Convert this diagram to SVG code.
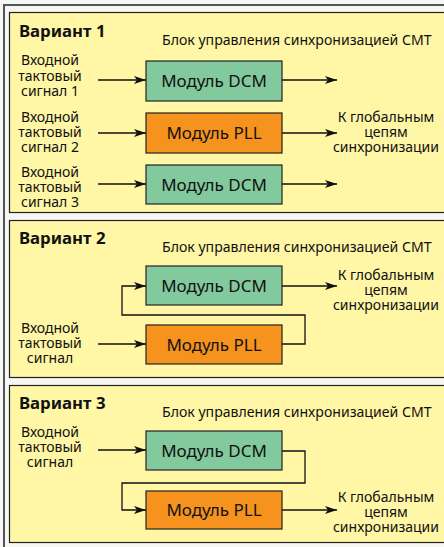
<svg xmlns="http://www.w3.org/2000/svg" width="444" height="547" viewBox="0 0 444 547">
<defs>
<marker id="ah" viewBox="0 0 12 8" refX="12" refY="4" markerWidth="12" markerHeight="8" markerUnits="userSpaceOnUse" orient="auto">
<path d="M0,0 L12,4 L0,8 L3,4 Z" fill="#111"/>
</marker>
</defs>
<style>
.panel{fill:#FFF6A6;stroke:#222;stroke-width:1.2}
.dcm{fill:#82C99D;stroke:#222;stroke-width:1.2}
.pll{fill:#F6921E;stroke:#222;stroke-width:1.2}
.title{font-family:"Noto Sans",sans-serif;font-weight:bold;font-size:16.8px;fill:#111}
.sub{font-family:"Noto Sans",sans-serif;font-size:14.1px;fill:#111}
.lbl{font-family:"Noto Sans",sans-serif;font-size:14px;fill:#111;text-anchor:middle}
.box{font-family:"Noto Sans",sans-serif;font-size:17px;fill:#111;text-anchor:middle}
.wire{fill:none;stroke:#111;stroke-width:1.3}
.arr{fill:none;stroke:#111;stroke-width:1.3;marker-end:url(#ah)}
</style>
<rect x="0" y="0" width="444" height="547" fill="#F6F6F4"/>
<path d="M4,547 V5 H444" fill="none" stroke="#555" stroke-width="2"/>

<g id="panel1">
<rect class="panel" x="9.5" y="12.5" width="440" height="200"/>
<text class="title" x="19" y="37">Вариант 1</text>
<text class="sub" x="162" y="45">Блок управления синхронизацией СМТ</text>
<text class="lbl"><tspan x="50" y="65">Входной</tspan><tspan x="50" y="81">тактовый</tspan><tspan x="50" y="96">сигнал 1</tspan></text>
<text class="lbl"><tspan x="50" y="122">Входной</tspan><tspan x="50" y="137">тактовый</tspan><tspan x="50" y="152">сигнал 2</tspan></text>
<text class="lbl"><tspan x="50" y="177">Входной</tspan><tspan x="50" y="192">тактовый</tspan><tspan x="50" y="207">сигнал 3</tspan></text>
<text class="lbl"><tspan x="386" y="122">К глобальным</tspan><tspan x="386" y="137">цепям</tspan><tspan x="386" y="152">синхронизации</tspan></text>
</g>
<g id="p1-dcm1"><rect class="dcm" x="146" y="61" width="136" height="40"/><text class="box" x="214" y="86.5">Модуль DCM</text></g>
<g id="p1-pll"><rect class="pll" x="146" y="113" width="136" height="40"/><text class="box" x="214" y="138.5">Модуль PLL</text></g>
<g id="p1-dcm2"><rect class="dcm" x="146" y="165" width="136" height="39"/><text class="box" x="214" y="190.5">Модуль DCM</text></g>

<g id="panel2">
<rect class="panel" x="9.5" y="220.5" width="440" height="157"/>
<text class="title" x="19" y="244">Вариант 2</text>
<text class="sub" x="162" y="252">Блок управления синхронизацией СМТ</text>
<text class="lbl"><tspan x="50" y="333">Входной</tspan><tspan x="50" y="348">тактовый</tspan><tspan x="50" y="363">сигнал</tspan></text>
<text class="lbl"><tspan x="386" y="280">К глобальным</tspan><tspan x="386" y="295">цепям</tspan><tspan x="386" y="310">синхронизации</tspan></text>
</g>
<g id="p2-dcm"><rect class="dcm" x="146" y="266" width="136" height="39"/><text class="box" x="214" y="291.5">Модуль DCM</text></g>
<g id="p2-pll"><rect class="pll" x="146" y="325" width="136" height="39"/><text class="box" x="214" y="350.5">Модуль PLL</text></g>

<g id="panel3">
<rect class="panel" x="9.5" y="385.5" width="440" height="157"/>
<text class="title" x="19" y="409">Вариант 3</text>
<text class="sub" x="162" y="417">Блок управления синхронизацией СМТ</text>
<text class="lbl"><tspan x="50" y="437">Входной</tspan><tspan x="50" y="452">тактовый</tspan><tspan x="50" y="467">сигнал</tspan></text>
<text class="lbl"><tspan x="386" y="502">К глобальным</tspan><tspan x="386" y="517">цепям</tspan><tspan x="386" y="532">синхронизации</tspan></text>
</g>
<g id="p3-dcm"><rect class="dcm" x="146" y="431" width="136" height="39"/><text class="box" x="214" y="456.5">Модуль DCM</text></g>
<g id="p3-pll"><rect class="pll" x="146" y="491" width="136" height="38"/><text class="box" x="214" y="516">Модуль PLL</text></g>

<g id="connectors">
<path class="arr" d="M98,80 H146"/>
<path class="arr" d="M282,80 H337"/>
<path class="arr" d="M98,133 H146"/>
<path class="arr" d="M282,133 H337"/>
<path class="arr" d="M98,184 H146"/>
<path class="arr" d="M282,184 H337"/>

<path class="arr" d="M98,344 H146"/>
<path class="arr" d="M282,344 H305 V315 H122 V286 H146"/>
<path class="arr" d="M282,286 H337"/>

<path class="arr" d="M98,450 H146"/>
<path class="arr" d="M282,451 H305 V483 H122 V510 H146"/>
<path class="arr" d="M282,510 H337"/>
</g>
</svg>
